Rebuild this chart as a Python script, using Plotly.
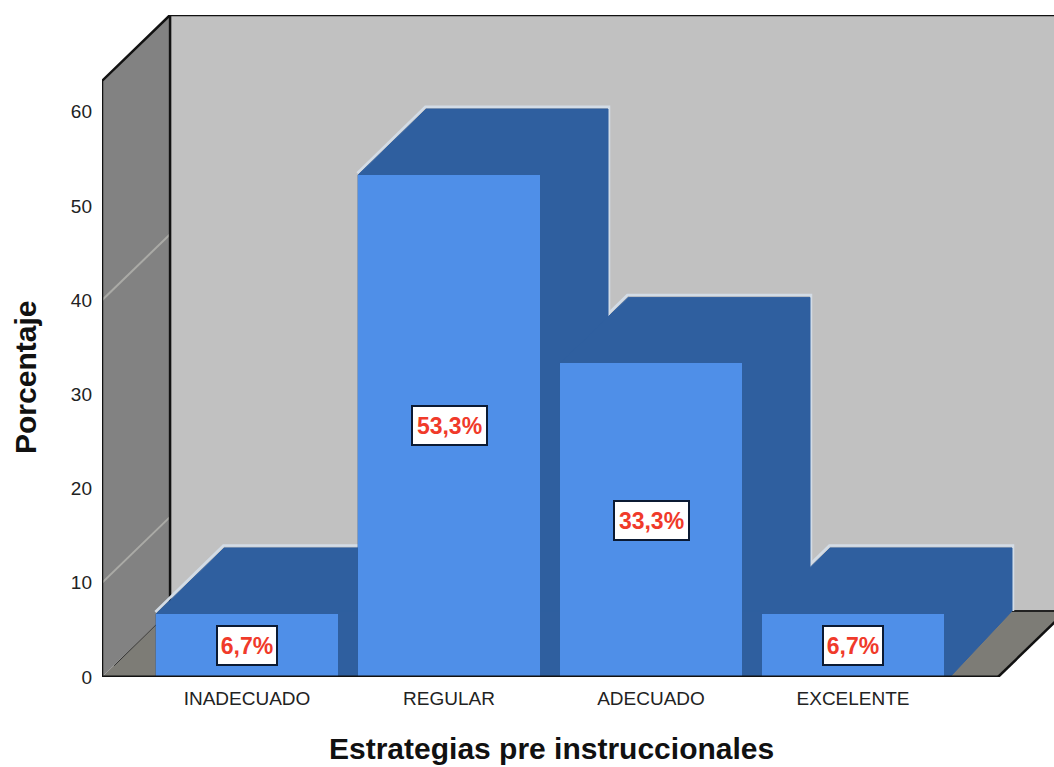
import plotly.graph_objects as go

categories = ["INADECUADO", "REGULAR", "ADECUADO", "EXCELENTE"]
percent_values = [6.7, 53.3, 33.3, 6.7]
percent_labels = ["6,7%", "53,3%", "33,3%", "6,7%"]
y_ticks = [0, 10, 20, 30, 40, 50, 60]

# Oblique depth of the fake 3D box, in axis units
DX = 0.337
DY = 7.0
BAR_W = 0.9
X_RANGE = [-0.718, 3.995]
Y_RANGE = [0, 70.28]
Y_FRONT_TOP = Y_RANGE[1] - DY
X_FRONT_RIGHT = 3.718

WALL = "#c1c1c1"
SIDE = "#828282"
FLOOR = "#7d7c76"
BAR = "#4f8fe8"
DEPTH = "#2f5f9f"
HALO = "#d3dce6"

# Figure layout in pixels, for placing the axis titles
PLOT_L, PLOT_W = 102, 952
PLOT_B, PLOT_H = 677, 662

fig = go.Figure()


def poly(xs, ys, fill=None, line="rgba(0,0,0,0)", width=0):
    fig.add_trace(go.Scatter(
        x=xs, y=ys, mode="lines", fill="toself" if fill else None,
        fillcolor=fill, line=dict(color=line, width=width),
        hoverinfo="skip", showlegend=False))


x_left, x_right = X_RANGE
back_left = x_left + DX

# Back wall, side wall, floor
poly([back_left, x_right + 0.1, x_right + 0.1, back_left],
     [DY, DY, Y_RANGE[1], Y_RANGE[1]], WALL)
poly([x_left, back_left, back_left, x_left],
     [0, DY, Y_RANGE[1], Y_FRONT_TOP], SIDE)
poly([x_left, X_FRONT_RIGHT, X_FRONT_RIGHT + DX, back_left],
     [0, 0, DY, DY], FLOOR)

# Faint grid traces on the side wall
for g in (10, 40):
    poly([x_left, back_left], [g, g + DY], line="#aaaaa6", width=2)

# Box edges
poly([x_left, x_left, back_left, x_right + 0.1],
     [0, Y_FRONT_TOP, Y_RANGE[1], Y_RANGE[1]], line="#111111", width=2.5)
poly([back_left, back_left], [DY, Y_RANGE[1]], line="#111111", width=2.5)
poly([back_left, x_right + 0.1], [DY, DY], line="#222222", width=2)
poly([x_left + 0.06, back_left], [DY * 0.17, DY], line="#333333", width=1)
poly([X_FRONT_RIGHT, X_FRONT_RIGHT + DX], [0, DY], line="#111111", width=2.5)

# Pale rim round the extrusions, drawn first so neighbours cover it
for i, v in enumerate(percent_values):
    a = i - BAR_W / 2
    b = i + BAR_W / 2
    poly([a - 0.004, a + DX - 0.004, b + DX + 0.005, b + DX + 0.005],
         [v + 0.2, v + DY + 0.25, v + DY + 0.25, DY], line=HALO, width=2.5)

# Extruded side and top of each bar, back to front
for i, v in enumerate(percent_values):
    a = i - BAR_W / 2
    b = i + BAR_W / 2
    xs = [a, a + DX, b + DX, b + DX, b + 0.03, a, a]
    ys = [v, v + DY, v + DY, DY, 0, 0, v]
    poly(xs, ys, DEPTH, line=DEPTH, width=1)
    if i < len(percent_values) - 1:
        poly([b, b + 0.2, b + 0.2, b], [0, 0, DY, DY], DEPTH, line=DEPTH, width=1)

# Bar fronts, on an overlaid pair of axes so they sit over the extrusions
fig.add_trace(go.Bar(
    x=list(range(len(categories))), y=percent_values, width=BAR_W,
    marker=dict(color=BAR, line=dict(width=0)),
    xaxis="x2", yaxis="y2", hoverinfo="skip", showlegend=False))

annotations = [
    dict(x=i, y=v / 2, xref="x2", yref="y2", text=f"<b>{t}</b>",
         showarrow=False, width=w, height=37,
         bgcolor="white", bordercolor="#0b1a33", borderwidth=2, borderpad=0,
         font=dict(family="Liberation Sans", size=23, color="#f03a2a"))
    for i, (v, t, w) in enumerate(zip(percent_values, percent_labels, [58, 73, 73, 58]))
]
annotations += [
    dict(x=(551 - PLOT_L) / PLOT_W, y=(PLOT_B - 748) / PLOT_H, xref="paper", yref="paper",
         text="<b>Estrategias pre instruccionales</b>", showarrow=False,
         xanchor="center", yanchor="middle",
         font=dict(family="Liberation Sans", size=30, color="#111111")),
    dict(x=(25 - PLOT_L) / PLOT_W, y=(PLOT_B - 378) / PLOT_H, xref="paper", yref="paper",
         text="<b>Porcentaje</b>", showarrow=False, textangle=-90,
         xanchor="center", yanchor="middle",
         font=dict(family="Liberation Sans", size=30, color="#111111")),
]

fig.update_layout(
    width=1054, height=767,
    margin=dict(l=102, r=0, t=15, b=90, autoexpand=False),
    paper_bgcolor="white", plot_bgcolor="white",
    bargap=0, showlegend=False,
    annotations=annotations,
    xaxis=dict(range=X_RANGE, tickmode="array", tickvals=list(range(len(categories))),
               ticktext=categories, showgrid=False, zeroline=False, showline=False,
               ticks="", ticklabelstandoff=8,
               tickfont=dict(family="Liberation Sans", size=19, color="#222222")),
    yaxis=dict(range=Y_RANGE, tickmode="array", tickvals=y_ticks, showgrid=False,
               zeroline=False, showline=False, ticks="", ticklabelstandoff=9,
               tickfont=dict(family="Liberation Sans", size=19, color="#222222")),
    xaxis2=dict(range=X_RANGE, overlaying="x", visible=False, showgrid=False, zeroline=False),
    yaxis2=dict(range=Y_RANGE, overlaying="y", visible=False, showgrid=False, zeroline=False),
    shapes=[dict(type="line", xref="x2", yref="y2", x0=X_RANGE[0], x1=X_FRONT_RIGHT,
                 y0=0, y1=0, line=dict(color="#111111", width=3), layer="above")],
)

fig.write_html(
    "out.html",
    config={"displayModeBar": False},
    post_script="document.body.style.margin='0';document.documentElement.style.overflow='hidden';",
)
